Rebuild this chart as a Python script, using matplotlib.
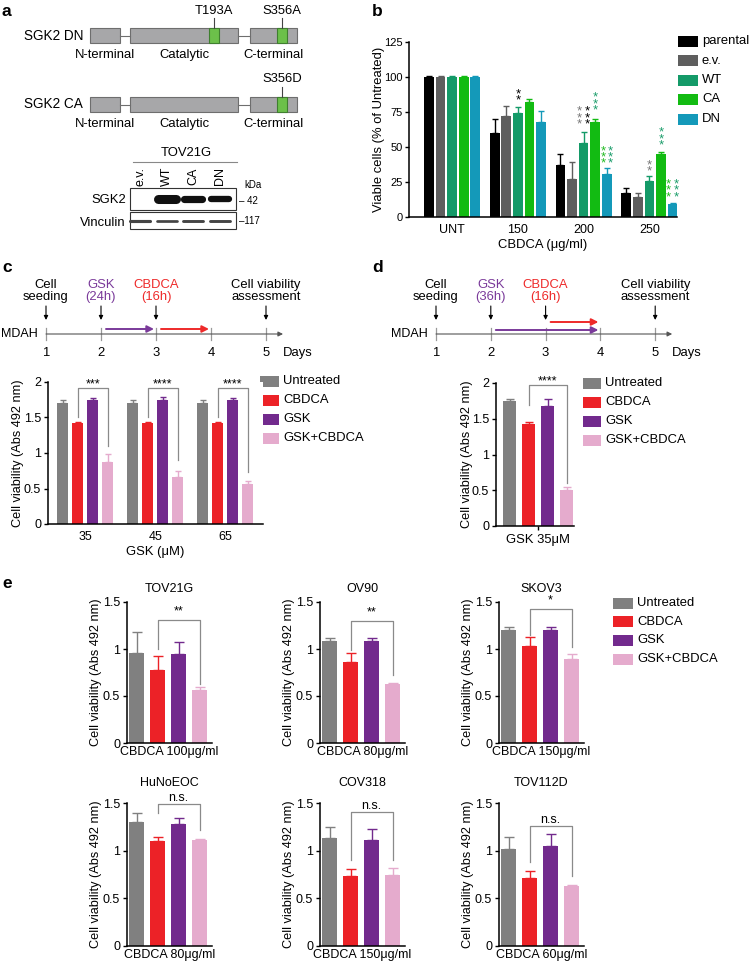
import numpy as np
import matplotlib
matplotlib.use("Agg")
import matplotlib.pyplot as plt
from matplotlib.patches import Rectangle

plt.rcParams['font.family'] = ['Liberation Sans', 'DejaVu Sans']
plt.rcParams['font.size'] = 9
plt.rcParams['axes.linewidth'] = 1.1

W, H = 749, 964

# ---------------- data ----------------
# panel a: domain map + blot
domains = [(90, 120), (130, 238), (250, 297)]
domain_names = ['N-terminal', 'Catalytic', 'C-terminal']
dn_mutations = [('T193A', 214), ('S356A', 282)]
ca_mutations = [('S356D', 282)]
blot_lanes = ['e.v.', 'WT', 'CA', 'DN']
sgk2_band = [0.0, 1.0, 0.8, 0.7]
vinc_band = [0.75, 0.65, 0.7, 0.7]

# panel b
b_groups = ['UNT', '150', '200', '250']
b_series = ['parental', 'e.v.', 'WT', 'CA', 'DN']
b_colors = ['#000000', '#5e5e5e', '#149a68', '#12bb12', '#1499b9']
b_parental = [100, 60, 37, 17]
b_ev = [100, 72, 27, 14]
b_wt = [100, 74, 53, 26]
b_ca = [100, 82, 68, 45]
b_dn = [100, 68, 31, 9.5]
b_parental_err = [1, 10, 8, 4]
b_ev_err = [1, 7, 12, 3]
b_wt_err = [0.5, 4.5, 8, 3]
b_ca_err = [0.5, 2.5, 2, 1.5]
b_dn_err = [0.5, 8, 4, 0.3]
teal = '#1a9c6a'
green = '#22bb22'
# (group, series, column shift, n stars, colour, bottom value)
b_stars = [
    (1, 2, 0.0, 2, 'black', 79),
    (2, 2, -0.058, 3, '#777777', 62),
    (2, 2, 0.058, 3, 'black', 62),
    (2, 3, 0.0, 3, teal, 72),
    (2, 4, -0.058, 3, green, 34),
    (2, 4, 0.058, 3, teal, 34),
    (3, 2, 0.0, 2, '#777777', 28),
    (3, 3, 0.0, 3, teal, 47),
    (3, 4, -0.058, 3, green, 10),
    (3, 4, 0.058, 3, teal, 10),
]

# treatments (c, d, e)
treat = ['Untreated', 'CBDCA', 'GSK', 'GSK+CBDCA']
treat_colors = ['#808080', '#ec2227', '#722a8d', '#e5abcd']
purple = '#7a3a9a'
red = '#ee2a2a'

# panel c
c_doses = ['35', '45', '65']
c_untreated = [1.70, 1.70, 1.70]
c_untreated_err = [0.05, 0.05, 0.05]
c_cbdca = [1.42, 1.42, 1.42]
c_cbdca_err = [0.02, 0.02, 0.02]
c_gsk = [1.75, 1.75, 1.74]
c_gsk_err = [0.02, 0.04, 0.04]
c_combo = [0.87, 0.66, 0.57]
c_combo_err = [0.11, 0.08, 0.04]
c_sig = ['***', '****', '****']
c_right_leg = [1.10, 0.90, 0.73]

# panel d
d_vals = [1.75, 1.43, 1.68, 0.50]
d_errs = [0.03, 0.02, 0.09, 0.05]

# timelines
tl_days = [1, 2, 3, 4, 5]
c_events = [(1, 'Cell\nseeding', 'black'), (2, 'GSK\n(24h)', purple),
            (3, 'CBDCA\n(16h)', red), (5, 'Cell viability\nassessment', 'black')]
d_events = [(1, 'Cell\nseeding', 'black'), (2, 'GSK\n(36h)', purple),
            (3, 'CBDCA\n(16h)', red), (5, 'Cell viability\nassessment', 'black')]
c_spans = [(2, 3, purple, 329), (3, 4, red, 329)]
d_spans = [(2, 4, purple, 330), (3, 4, red, 322)]

# panel e
e_lines = ['TOV21G', 'OV90', 'SKOV3', 'HuNoEOC', 'COV318', 'TOV112D']
e_doses = ['CBDCA 100μg/ml', 'CBDCA 80μg/ml', 'CBDCA 150μg/ml',
           'CBDCA 80μg/ml', 'CBDCA 150μg/ml', 'CBDCA 60μg/ml']
e_untreated = [0.96, 1.09, 1.20, 1.30, 1.13, 1.02]
e_untreated_err = [0.22, 0.03, 0.03, 0.09, 0.12, 0.12]
e_cbdca = [0.78, 0.86, 1.03, 1.10, 0.73, 0.71]
e_cbdca_err = [0.15, 0.10, 0.10, 0.04, 0.08, 0.08]
e_gsk = [0.95, 1.09, 1.20, 1.28, 1.11, 1.05]
e_gsk_err = [0.12, 0.03, 0.03, 0.06, 0.12, 0.13]
e_combo = [0.56, 0.63, 0.89, 1.11, 0.74, 0.63]
e_combo_err = [0.04, 0.01, 0.06, 0.01, 0.08, 0.01]
e_sig = ['**', '**', '*', 'n.s.', 'n.s.', 'n.s.']
e_bracket_top = [1.31, 1.30, 1.43, 1.49, 1.41, 1.26]
e_left_leg = [1.0, 0.99, 1.15, 1.40, 0.90, 0.88]
e_right_leg = [0.63, 0.72, 1.02, 1.22, 0.90, 0.73]

# ---------------- figure ----------------
fig = plt.figure(figsize=(W / 100, H / 100), dpi=100)


def px_axes(x0, y0, x1, y1):
    return fig.add_axes([x0 / W, 1 - y1 / H, (x1 - x0) / W, (y1 - y0) / H])


def style(ax):
    for s in ['top', 'right']:
        ax.spines[s].set_visible(False)
    ax.tick_params(direction='out', length=3, width=1, labelsize=9, pad=2)


def fmt(v):
    return f'{v:g}'


ov = fig.add_axes([0, 0, 1, 1])
ov.set_xlim(0, W)
ov.set_ylim(H, 0)
ov.axis('off')

# panel letters
for lab, x, y in [('a', 2, 12), ('b', 372, 12), ('c', 2, 268), ('d', 372, 268), ('e', 2, 583)]:
    ov.text(x, y, lab, fontsize=12.5, fontweight='bold', va='center', ha='left')

# ---- panel a ----
box_fc = '#a7a7a9'
box_ec = '#6e6e6e'
mut_fc = '#6cc04a'


def domain_row(yc, label, muts):
    ov.text(83, yc, label, ha='right', va='center', fontsize=9.8)
    for (x0, x1), (n0, n1) in zip(domains[:-1], domains[1:]):
        ov.plot([x1, n0], [yc, yc], color=box_ec, lw=0.8)
    for (x0, x1), name in zip(domains, domain_names):
        ov.add_patch(Rectangle((x0, yc - 7.5), x1 - x0, 15, fc=box_fc, ec=box_ec, lw=0.8))
        ov.text((x0 + x1) / 2, yc + 19.5, name, ha='center', va='center', fontsize=9.4)
    for name, x in muts:
        ov.add_patch(Rectangle((x - 5, yc - 7.5), 10, 15, fc=mut_fc, ec='#3f7f2f', lw=0.8))
        ov.plot([x, x], [yc - 7.5, yc - 17.5], color='#444444', lw=0.8)
        ov.text(x, yc - 25, name, ha='center', va='center', fontsize=9.4)


domain_row(35.5, 'SGK2 DN', dn_mutations)
domain_row(104.5, 'SGK2 CA', ca_mutations)

# blot
ov.text(186, 153, 'TOV21G', ha='center', va='center', fontsize=9.4)
ov.plot([133, 237], [161.5, 161.5], color='#888888', lw=0.8)
lane_x = [140 + i * 26.7 for i in range(len(blot_lanes))]
for x, lab in zip(lane_x, blot_lanes):
    ov.text(x, 176, lab, rotation=90, ha='center', va='center', fontsize=9)
ov.add_patch(Rectangle((130, 188), 106, 22, fc='white', ec='#333333', lw=0.8))
ov.add_patch(Rectangle((130, 212), 106, 17, fc='white', ec='#333333', lw=0.8))
for x, s, v in zip(lane_x, sgk2_band, vinc_band):
    if s > 0:
        ov.plot([x - 9, x + 9], [199, 199], color='#111111', lw=6.5 * s,
                solid_capstyle='round')
    ov.plot([x - 10, x + 10], [221, 221], color='#444444', lw=3 * v,
            solid_capstyle='round')
ov.text(126, 200, 'SGK2', ha='right', va='center', fontsize=9.4)
ov.text(126, 223, 'Vinculin', ha='right', va='center', fontsize=9.4)
ov.text(244, 185, 'kDa', ha='left', va='center', fontsize=7)
ov.text(239, 201, '– 42', ha='left', va='center', fontsize=7)
ov.text(239, 221, '–117', ha='left', va='center', fontsize=7)

# ---- panel b ----
axb = px_axes(409, 42, 677, 217)
style(axb)
b_vals = [b_parental, b_ev, b_wt, b_ca, b_dn]
b_errs = [b_parental_err, b_ev_err, b_wt_err, b_ca_err, b_dn_err]
gx = np.arange(len(b_groups))
b_off = 0.176
for i, (vals, errs, col) in enumerate(zip(b_vals, b_errs, b_colors)):
    xs = gx + (i - 2) * b_off
    axb.bar(xs, vals, width=0.148, color=col)
    axb.errorbar(xs, vals, yerr=[np.zeros(len(vals)), errs], fmt='none',
                 ecolor=col, elinewidth=1, capsize=2.3, capthick=1)
for g, s, dx, n, col, yb in b_stars:
    axb.text(g + (s - 2) * b_off + dx, yb, '\n'.join(['*'] * n), color=col,
             ha='center', va='bottom', fontsize=9.5, linespacing=0.35,
             clip_on=False)
axb.set_xlim(-0.655, 3.42)
axb.set_ylim(0, 125)
axb.set_yticks([0, 25, 50, 75, 100, 125])
axb.set_xticks(gx)
axb.set_xticklabels(b_groups)
axb.tick_params(axis='y', labelsize=8, pad=1.5)
axb.tick_params(axis='x', length=0, pad=5)
axb.set_xlabel('CBDCA (μg/ml)', fontsize=9.4, labelpad=2)
axb.set_ylabel('Viable cells (% of Untreated)', fontsize=9.4)
axb.yaxis.set_label_coords(-0.088, 0.5)


def legend_box(x, y0, step, labels, colors, w=20, h=11, fs=9.4):
    for k, (lab, col) in enumerate(zip(labels, colors)):
        y = y0 + k * step
        ov.add_patch(Rectangle((x, y - h / 2), w, h, fc=col, ec='none'))
        ov.text(x + w + 4, y, lab, ha='left', va='center', fontsize=fs)


legend_box(678, 41, 19.5, b_series, b_colors)

# ---- timelines ----


def timeline(x1, step, events, spans):
    yl = 334

    def dx(d):
        return x1 + (d - 1) * step
    ov.annotate('', xy=(dx(5.31), yl), xytext=(dx(1), yl),
                arrowprops=dict(arrowstyle='-|>', color='#555555', lw=0.8,
                                mutation_scale=7, shrinkA=0, shrinkB=0))
    for d in tl_days:
        ov.plot([dx(d), dx(d)], [yl - 6, yl + 6], color='#999999', lw=0.9)
        ov.text(dx(d), 353, str(d), ha='center', va='center', fontsize=9.4)
    ov.text(dx(5.31), 353, 'Days', ha='left', va='center', fontsize=9.4)
    ov.text(x1 - 8, yl, 'MDAH', ha='right', va='center', fontsize=9)
    for d, txt, col in events:
        ov.text(dx(d), 291, txt, ha='center', va='center', fontsize=9.4,
                color=col, linespacing=1.1)
        ov.annotate('', xy=(dx(d), 320), xytext=(dx(d), 306),
                    arrowprops=dict(arrowstyle='-|>', color='black', lw=0.8,
                                    mutation_scale=6, shrinkA=0, shrinkB=0))
    for d0, d1, col, y in spans:
        ov.annotate('', xy=(dx(d1) - 2, y), xytext=(dx(d0) + 5, y),
                    arrowprops=dict(arrowstyle='-|>', color=col, lw=1.4,
                                    mutation_scale=10, shrinkA=0, shrinkB=0))


timeline(46, 55, c_events, c_spans)
timeline(436, 54.8, d_events, d_spans)

# ---- panel c ----
axc = px_axes(48, 382, 263, 524)
style(axc)
c_vals = [c_untreated, c_cbdca, c_gsk, c_combo]
c_errs = [c_untreated_err, c_cbdca_err, c_gsk_err, c_combo_err]
gx = np.arange(len(c_doses))
c_off = 0.214
for i, (vals, errs, col) in enumerate(zip(c_vals, c_errs, treat_colors)):
    xs = gx + (i - 1.5) * c_off
    axc.bar(xs, vals, width=0.158, color=col)
    axc.errorbar(xs, vals, yerr=[np.zeros(len(vals)), errs], fmt='none',
                 ecolor=col, elinewidth=1, capsize=2.5, capthick=1)
for g, sig, rl in zip(gx, c_sig, c_right_leg):
    xl = g - 0.5 * c_off
    xr = g + 1.5 * c_off
    axc.plot([xl, xl, xr, xr], [1.51, 1.92, 1.92, rl], color='#8a8a8a', lw=0.9,
             clip_on=False)
    axc.text((xl + xr) / 2, 1.97, sig, ha='center', va='center', fontsize=9,
             clip_on=False)
axc.set_xlim(-0.53, 2.54)
axc.set_ylim(0, 2)
axc.set_yticks([0, 0.5, 1, 1.5, 2])
axc.set_yticklabels([fmt(v) for v in [0, 0.5, 1, 1.5, 2]])
axc.set_xticks(gx)
axc.set_xticklabels(c_doses)
axc.tick_params(axis='x', length=0, pad=5)
axc.set_xlabel('GSK (μM)', fontsize=9.4, labelpad=2)
axc.set_ylabel('Cell viability (Abs 492 nm)', fontsize=9.2)
axc.yaxis.set_label_coords(-0.11, 0.5)
legend_box(260, 381, 19, treat, treat_colors, w=19)

# ---- panel d ----
axd = px_axes(496, 383, 574, 526)
style(axd)
xs = np.arange(len(treat))
axd.bar(xs, d_vals, width=0.68, color=treat_colors)
for x, v, e, col in zip(xs, d_vals, d_errs, treat_colors):
    axd.errorbar(x, v, yerr=[[0], [e]], fmt='none', ecolor=col, elinewidth=1,
                 capsize=3, capthick=1)
axd.plot([1, 1, 3, 3], [1.69, 1.97, 1.97, 0.6], color='#8a8a8a', lw=0.9, clip_on=False)
axd.text(2, 2.02, '****', ha='center', va='center', fontsize=9, clip_on=False)
axd.set_xlim(-0.71, 3.39)
axd.set_ylim(0, 2)
axd.set_yticks([0, 0.5, 1, 1.5, 2])
axd.set_yticklabels([fmt(v) for v in [0, 0.5, 1, 1.5, 2]])
axd.set_xticks([1.5])
axd.set_xticklabels(['GSK 35μM'])
axd.tick_params(axis='x', labelsize=9.4, pad=3)
axd.set_ylabel('Cell viability (Abs 492 nm)', fontsize=9.2)
axd.yaxis.set_label_coords(-0.29, 0.5)
legend_box(583, 383, 19, treat, treat_colors, w=18)

# ---- panel e ----
rows = [(602, 743), (803, 946)]
title_pad = [7, 12]
cols = [127, 320, 499]
e_vals = list(zip(e_untreated, e_cbdca, e_gsk, e_combo))
e_errs = list(zip(e_untreated_err, e_cbdca_err, e_gsk_err, e_combo_err))
for k, name in enumerate(e_lines):
    r, c = divmod(k, 3)
    ax = px_axes(cols[c], rows[r][0], cols[c] + 85, rows[r][1])
    style(ax)
    xs = np.arange(len(treat))
    ax.bar(xs, e_vals[k], width=0.74, color=treat_colors)
    for x, v, e, col in zip(xs, e_vals[k], e_errs[k], treat_colors):
        ax.errorbar(x, v, yerr=[[0], [e]], fmt='none', ecolor=col, elinewidth=1,
                    capsize=3.5, capthick=1)
    top = e_bracket_top[k]
    ax.plot([1, 1, 3, 3], [e_left_leg[k], top, top, e_right_leg[k]],
            color='#8a8a8a', lw=0.9, clip_on=False)
    if e_sig[k] == 'n.s.':
        ax.text(2, top + 0.06, e_sig[k], ha='center', va='center', fontsize=9)
    else:
        ax.text(2, top + 0.09, e_sig[k], ha='center', va='center', fontsize=9)
    ax.set_xlim(-0.46, 3.59)
    ax.set_ylim(0, 1.5)
    ax.set_yticks([0, 0.5, 1, 1.5])
    ax.set_yticklabels([fmt(v) for v in [0, 0.5, 1, 1.5]])
    ax.set_xticks([])
    ax.set_xlabel(e_doses[k], fontsize=9, labelpad=2)
    ax.set_ylabel('Cell viability (Abs 492 nm)', fontsize=9.2)
    ax.yaxis.set_label_coords(-0.29, 0.5)
    ax.set_title(name, fontsize=9, pad=title_pad[r])
legend_box(613, 603, 18.7, treat, treat_colors, w=20)

fig.savefig('out.png', dpi=100)
